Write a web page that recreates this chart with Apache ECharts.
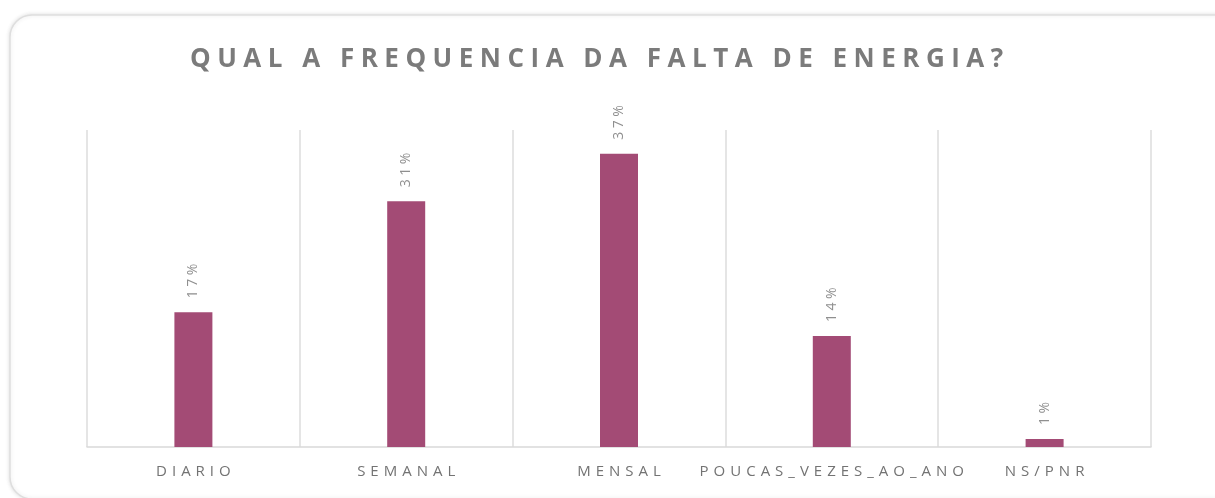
<!DOCTYPE html>
<html>
<head>
<meta charset="utf-8">
<script src="https://cdn.jsdelivr.net/npm/echarts@6/dist/echarts.min.js"></script>
<style>
  html, body { margin: 0; padding: 0; background: #ffffff; }
  #chart { width: 1215px; height: 498px; }
</style>
</head>
<body>
<div id="chart"></div>
<script>
// Survey answers: how often does the power go out?
const titleText = 'QUAL A FREQUENCIA DA FALTA DE ENERGIA?';
const categories = ['DIARIO', 'SEMANAL', 'MENSAL', 'POUCAS_VEZES_AO_ANO', 'NS/PNR'];
const shares = [17, 31, 37, 14, 1];   // percent of respondents

// Widen the tracking of caps text by putting a narrow space between glyphs
function tracked(s, gap) {
  return s.split('').join(gap);
}

const chart = echarts.init(document.getElementById('chart'));

chart.setOption({
  backgroundColor: '#ffffff',
  animation: false,
  graphic: [{
    type: 'rect',
    z: -10,
    shape: { x: 10, y: 15, width: 1230, height: 484, r: 22 },
    style: {
      fill: '#ffffff',
      stroke: '#dedede',
      lineWidth: 1.5,
      shadowBlur: 4,
      shadowColor: 'rgba(0,0,0,0.12)'
    }
  }],
  title: {
    text: tracked(titleText, '\u2005'),
    left: 185,
    top: 42,
    textStyle: {
      fontFamily: 'Open Sans',
      fontWeight: 'bold',
      fontSize: 26,
      color: '#7b7b7b'
    }
  },
  grid: { left: 87, right: 64, top: 130, bottom: 51 },
  xAxis: {
    type: 'category',
    data: categories,
    axisLine: { lineStyle: { color: '#d9d9d9', width: 1.5 } },
    axisTick: { show: false },
    splitLine: { show: true, interval: 0, lineStyle: { color: '#dcdcdc', width: 1.5 } },
    axisLabel: {
      interval: 0,
      margin: 17,
      fontFamily: 'Open Sans',
      fontSize: 15,
      color: '#737373',
      formatter: v => tracked(v, '\u2004')
    }
  },
  yAxis: {
    type: 'value',
    min: 0,
    max: 40,
    show: false,
    splitLine: { show: false }
  },
  series: [{
    type: 'bar',
    data: shares,
    barWidth: 38,
    itemStyle: { color: '#a34b75' },
    label: {
      show: true,
      position: 'top',
      distance: 14,
      rotate: 90,
      align: 'left',
      verticalAlign: 'middle',
      fontFamily: 'Open Sans',
      fontSize: 14,
      color: '#8f8f8f',
      formatter: p => tracked(p.value + '%', '\u2005')
    }
  }]
});
</script>
</body>
</html>
